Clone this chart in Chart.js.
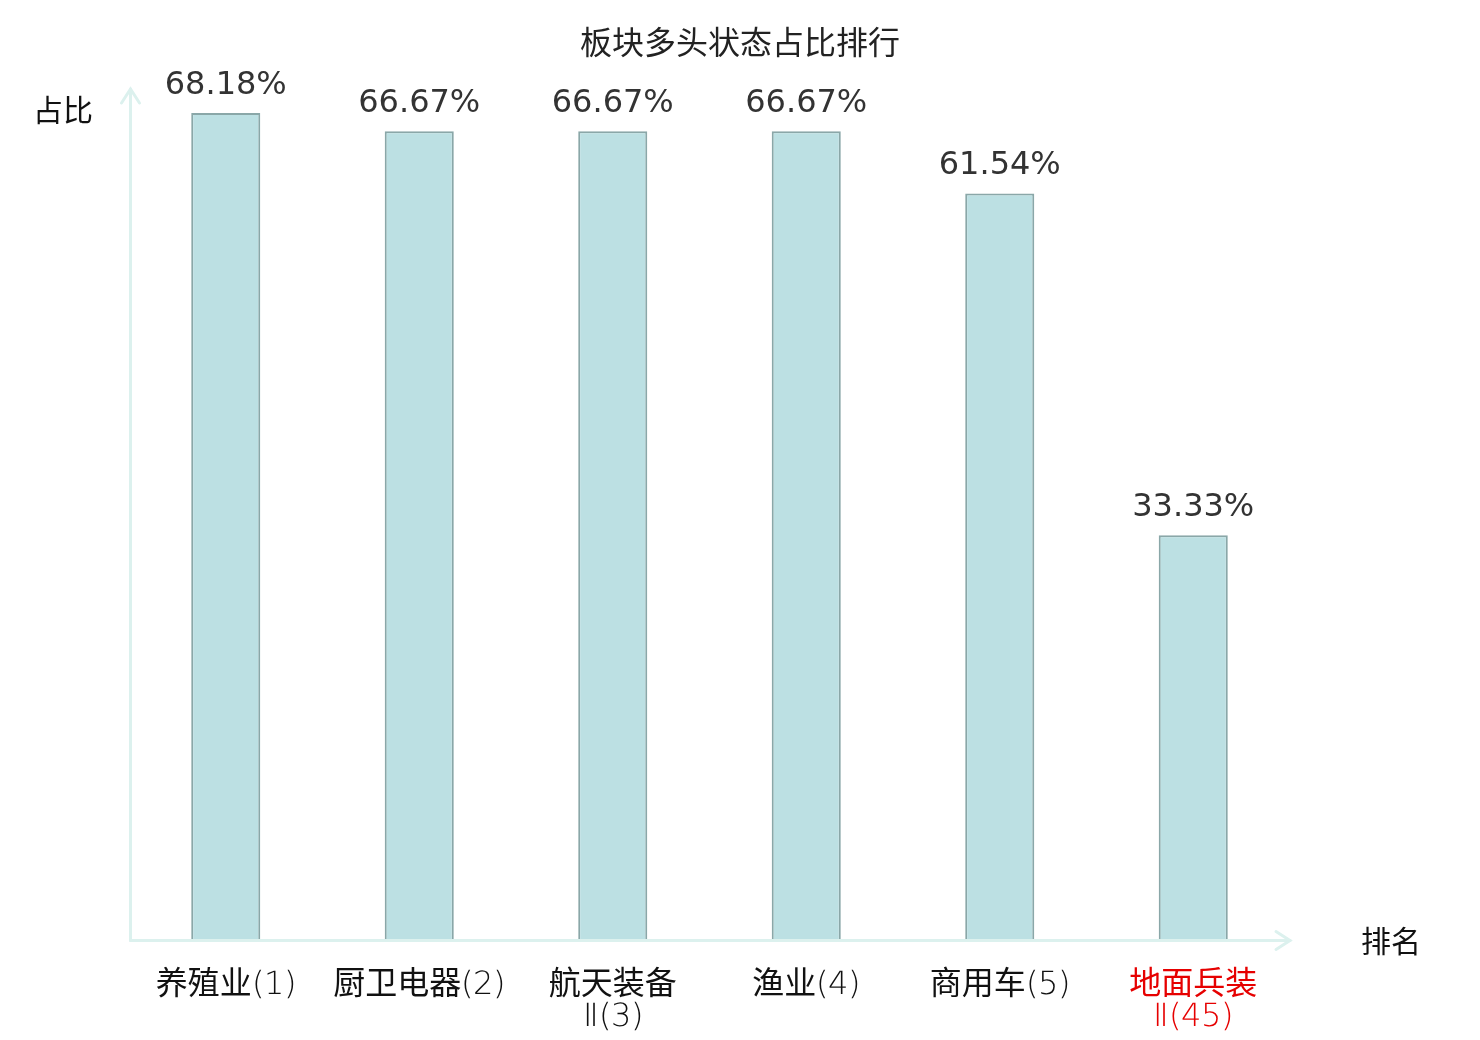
<!DOCTYPE html>
<html>
<head>
<meta charset="utf-8">
<script src="https://cdn.jsdelivr.net/npm/chart.js@4/dist/chart.umd.min.js"></script>
<style>
  @font-face {
    font-family: "LabelLatin";
    src: local("DejaVu Sans ExtraLight"), local("DejaVuSans-ExtraLight");
    font-weight: normal;
  }
  html, body { margin: 0; padding: 0; background: #ffffff; }
  canvas { display: block; }
</style>
</head>
<body>
<canvas id="c" width="1480" height="1040"></canvas>
<script>
const chartTitle = '板块多头状态占比排行';
const yAxisTitle = '占比';
const xAxisTitle = '排名';
const categories = ['养殖业', '厨卫电器', '航天装备Ⅱ', '渔业', '商用车', '地面兵装Ⅱ'];
const ranks = [1, 2, 3, 4, 5, 45];
const values = [68.18, 66.67, 66.67, 66.67, 61.54, 33.33];
const highlightIndex = 5;
const yMax = 70;

// tick labels: wrap names longer than 4 chars onto two lines
const tickLabels = categories.map((name, i) => {
  if (name.length > 4) return [name.slice(0, 4), name.slice(4) + '(' + ranks[i] + ')'];
  return [name + '(' + ranks[i] + ')'];
});

const AXIS_COLOR = '#dcf1ee';

const decorPlugin = {
  id: 'decor',
  afterDatasetsDraw(chart) {
    const ctx = chart.ctx;
    const a = chart.chartArea;
    const x0 = a.left + 1.5;
    const y0 = a.bottom + 1.5;
    ctx.save();
    ctx.strokeStyle = AXIS_COLOR;
    ctx.lineWidth = 3;
    ctx.lineCap = 'round';
    // y axis
    ctx.beginPath();
    ctx.moveTo(x0, y0);
    ctx.lineTo(x0, a.top - 2);
    ctx.stroke();
    ctx.beginPath();
    ctx.moveTo(x0 - 9, a.top + 12);
    ctx.lineTo(x0, a.top - 2);
    ctx.lineTo(x0 + 9, a.top + 12);
    ctx.stroke();
    // x axis
    ctx.beginPath();
    ctx.moveTo(x0, y0);
    ctx.lineTo(a.right, y0);
    ctx.stroke();
    ctx.beginPath();
    ctx.moveTo(a.right - 14, y0 - 9);
    ctx.lineTo(a.right, y0);
    ctx.lineTo(a.right - 14, y0 + 9);
    ctx.stroke();

    // value labels
    const meta = chart.getDatasetMeta(0);
    ctx.fillStyle = '#333333';
    ctx.font = '32px "DejaVu Sans"';
    ctx.textAlign = 'center';
    ctx.textBaseline = 'alphabetic';
    meta.data.forEach((bar, i) => {
      ctx.fillText(values[i].toFixed(2) + '%', bar.x, bar.y - 19);
    });

    // title
    ctx.fillStyle = '#222222';
    ctx.font = '32px "Noto Sans CJK SC"';
    ctx.textBaseline = 'middle';
    ctx.fillText(chartTitle, chart.width / 2, 42);

    // axis titles
    ctx.fillStyle = '#111111';
    ctx.font = '30px "Noto Sans CJK SC"';
    ctx.fillText(yAxisTitle, 63, 110);
    ctx.fillText(xAxisTitle, 1391, 941);
    ctx.restore();
  }
};

function build() {
  new Chart(document.getElementById('c'), {
    type: 'bar',
    data: {
      labels: tickLabels,
      datasets: [{
        data: values,
        backgroundColor: '#bce0e3',
        borderColor: '#8aa7a8',
        borderWidth: 2,
        barPercentage: 0.357,
        categoryPercentage: 1
      }]
    },
    options: {
      responsive: false,
      animation: false,
      devicePixelRatio: 1,
      layout: { padding: { left: 129, right: 190, top: 91, bottom: 0 } },
      plugins: {
        legend: { display: false },
        tooltip: { enabled: false },
        title: { display: false }
      },
      scales: {
        x: {
          grid: { display: false, drawTicks: false, tickLength: 0 },
          border: { display: false },
          ticks: {
            padding: 31,
            autoSkip: false,
            maxRotation: 0,
            font: { family: '"LabelLatin", "Noto Sans CJK SC"', size: 32, lineHeight: 1.0 },
            color: (c) => c.index === highlightIndex ? '#e60000' : '#111111'
          },
          afterFit(scale) { scale.height = 101; }
        },
        y: {
          display: false,
          min: 0,
          max: yMax
        }
      }
    },
    plugins: [decorPlugin]
  });
}

Promise.race([
  document.fonts.load('32px "LabelLatin"', '(1)Ⅱ'),
  new Promise(r => setTimeout(r, 1500))
]).catch(() => {}).then(build);
</script>
</body>
</html>
